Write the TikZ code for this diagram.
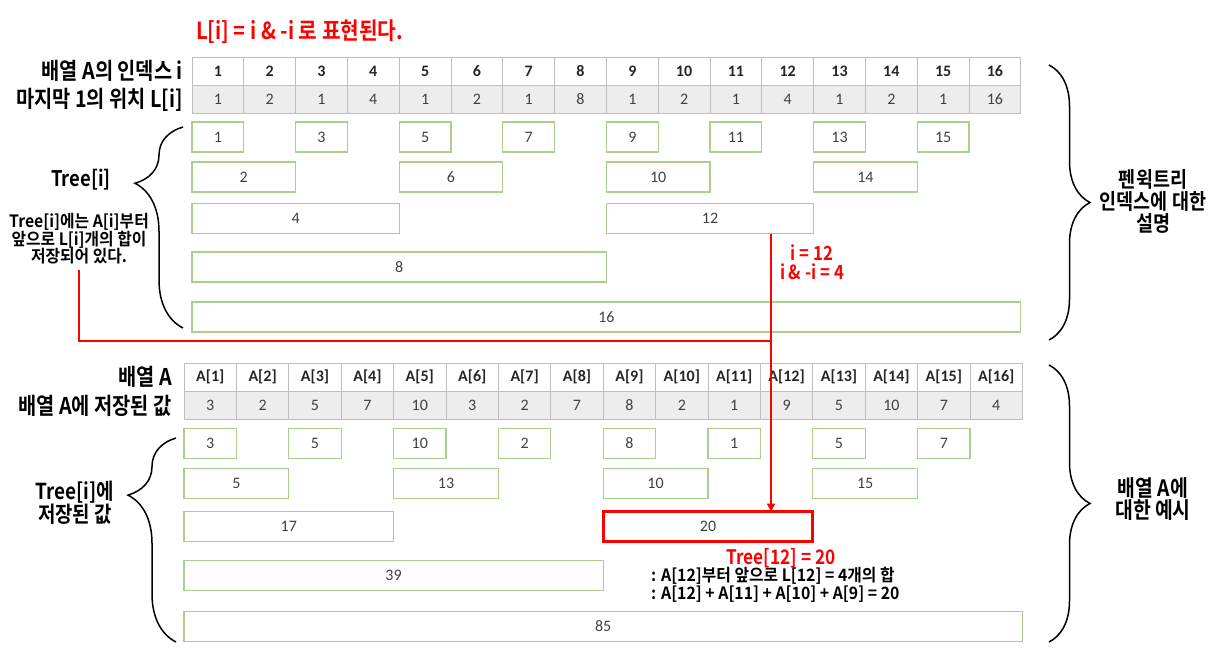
\documentclass[tikz,border=0pt]{standalone}
\usepackage{fontspec}
\setmainfont{Carlito}
\newfontfamily\kfont{Noto Sans CJK KR}[FakeStretch=0.86,BoldFont=* Bold]
\newfontfamily\kwide{Noto Sans CJK KR}[FakeStretch=0.93,BoldFont=* Bold]
\usetikzlibrary{positioning}
\usetikzlibrary{arrows.meta,decorations.pathreplacing}

\definecolor{cellgray}{HTML}{BFBFBF}
\definecolor{cellfill}{HTML}{EDEDED}
\definecolor{boxgreen}{HTML}{A9D18E}
\definecolor{numgray}{HTML}{404040}

\tikzset{
    headcell/.style={draw=cellgray, line width=1pt, fill=white, minimum width=#1, minimum height=28pt,
        inner sep=0pt, outer sep=0pt, text=black!85, font=\fontsize{16}{16}\selectfont\bfseries},
    lowcell/.style={headcell=#1, fill=cellfill, text=numgray, font=\fontsize{16}{16}\selectfont},
    treebox/.style={draw=boxgreen, line width=1.3pt, minimum height=30pt, inner sep=0pt, outer sep=0pt,
        text=numgray, font=\fontsize{16}{16}\selectfont},
    lab/.style={inner sep=0pt, align=center, font=\kfont\bfseries\fontsize{21.5}{22}\selectfont},
    rowlab/.style={lab, font=\kfont\bfseries\fontsize{23}{23}\selectfont},
    note/.style={inner sep=0pt, align=center, font=\kwide\bfseries\fontsize{17}{17.5}\selectfont},
    redtxt/.style={inner sep=0pt, align=center, text=red, font=\kfont\bfseries\fontsize{19.5}{19.5}\selectfont},
    redline/.style={draw=red, line width=2.6pt},
    bracel/.style={decorate, line width=1.5pt, decoration={brace, amplitude=48pt, aspect=0.72}},
    bracer/.style={decorate, line width=1.5pt, decoration={brace, amplitude=41pt}}
}

\begin{document}
\begin{tikzpicture}[x=1pt, y=-1pt]
    \useasboundingbox (0,0) rectangle (1224,665);

    \node[redtxt, anchor=west, font=\kfont\bfseries\fontsize{23.5}{23.5}\selectfont] (title) at (196,32)
        {L[i] = i \& -i 로 표현된다.};

    % index table
    \foreach \i/\l in {1/1,2/2,3/1,4/4,5/1,6/2,7/1,8/8,9/1,10/2,11/1,12/4,13/1,14/2,15/1,16/16} {
        \node[headcell=51.8pt] (idx\i) at ({192+(\i-0.5)*51.8},71) {\i};
        \node[lowcell=51.8pt] (low\i) at ({192+(\i-0.5)*51.8},99.5) {\l};
    }
    \node[rowlab, left=9pt of idx1] (lidx) {배열 A의 인덱스 i};
    \node[rowlab, left=9pt of low1] (llow) {마지막 1의 위치 L[i]};

    % tree ranges
    \foreach \i/\l/\y in {1/1/137,2/2/177,3/1/137,4/4/218.5,5/1/137,6/2/177,7/1/137,8/8/267,
            9/1/137,10/2/177,11/1/137,12/4/218.5,13/1/137,14/2/177,15/1/137,16/16/317} {
        \node[treebox, minimum width={\l*51.8pt}] (t\i) at ({192+(\i-\l/2)*51.8},\y) {\i};
    }

    % array A
    \foreach \i/\l/\y/\a/\s in {1/1/443.5/3/3,2/2/483.5/2/5,3/1/443.5/5/5,4/4/526.5/7/17,
            5/1/443.5/10/10,6/2/483.5/3/13,7/1/443.5/2/2,8/8/575.5/7/39,
            9/1/443.5/8/8,10/2/483.5/2/10,11/1/443.5/1/1,12/4/526.5/9/20,
            13/1/443.5/5/5,14/2/483.5/10/15,15/1/443.5/7/7,16/16/626.5/4/85} {
        \node[headcell=52.4pt] (a\i) at ({184+(\i-0.5)*52.4},377) {A[\i]};
        \node[lowcell=52.4pt] (v\i) at ({184+(\i-0.5)*52.4},405.5) {\a};
        \node[treebox, minimum width={\l*52.4pt}] (s\i) at ({184+(\i-\l/2)*52.4},\y) {\s};
    }
    \node[rowlab, left=12pt of a1] (la) {배열 A};
    \node[rowlab, left=12pt of v1] (lv) {배열 A에 저장된 값};
    \draw[red, line width=2.8pt] (s12.south west) rectangle (s12.north east);

    % braces
    \draw[bracel] (183,328) -- (183,127);
    \draw[bracel] (176,642) -- (176,438);
    \draw[bracer] (1049,65) -- (1049,340);
    \draw[bracer] (1049,365) -- (1049,642);
    \node[lab] (ltree) at (81,180) {Tree[i]};
    \node[note] (note) at (79,239) {Tree[i]에는 A[i]부터\\앞으로 L[i]개의 합이\\저장되어 있다.};
    \node[lab, font=\kfont\bfseries\fontsize{22}{21.5}\selectfont] (lsum) at (75,503) {Tree[i]에\\저장된 값};
    \node[lab] (rtop) at (1153,201) {펜윅트리\\인덱스에 대한\\설명};
    \node[lab, font=\kfont\bfseries\fontsize{22.5}{22}\selectfont] (rbot) at (1153,499) {배열 A에\\대한 예시};

    %Red lines
    \coordinate (bend) at (771,341);
    \draw[redline] ([yshift=-5pt]note.south) |- (bend);
    \draw[redline, -{Triangle[length=8pt,width=8pt]}] (t12.south -| bend) -- (s12.north -| bend);
    \node[redtxt] (mask) at (812,262) {i = 12\\i \& -i = 4};
    \node[redtxt, font=\kfont\bfseries\fontsize{20}{20}\selectfont] (res) at (781,558) {Tree[12] = 20};
    \node[note, anchor=west, align=left, font=\kwide\bfseries\fontsize{17}{16.5}\selectfont] (expl) at (651,585)
        {: A[12]부터 앞으로 L[12] = 4개의 합\\: A[12] + A[11] + A[10] + A[9] = 20};
\end{tikzpicture}
\end{document}
